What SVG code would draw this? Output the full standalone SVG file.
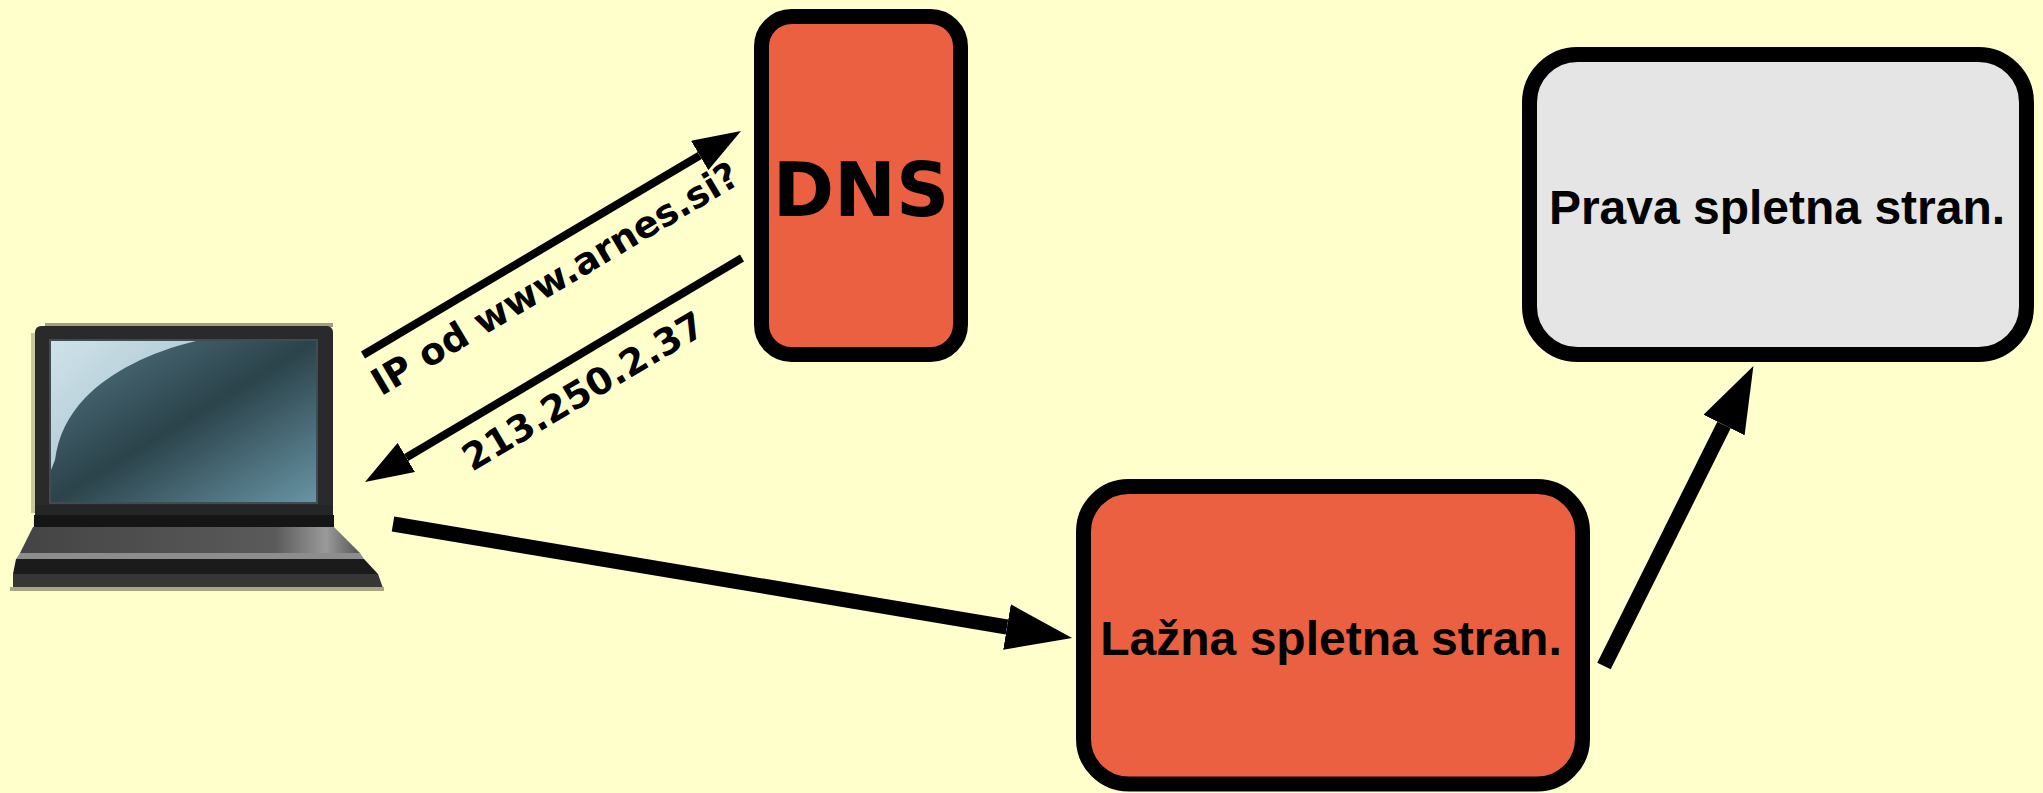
<svg xmlns="http://www.w3.org/2000/svg" width="2043" height="793" viewBox="0 0 2043 793">
  <defs>
    <style>
      .box { stroke: #000; stroke-width: 15; }
      .fake { fill: #ea6040; }
      .real { fill: #e5e5e5; }
      .boxlabel { font-family: "Liberation Sans", Arial, sans-serif; font-weight: bold; font-size: 48px; fill: #000; text-anchor: middle; }
      .dnslabel { font-family: "DejaVu Sans", Verdana, sans-serif; font-weight: bold; font-size: 74px; fill: #000; text-anchor: middle; }
      .edgelabel { font-family: "DejaVu Sans", Verdana, sans-serif; font-weight: bold; font-size: 37px; fill: #000; text-anchor: middle; }
      .thin { stroke: #000; stroke-width: 8; fill: none; marker-end: url(#head-s); }
      .thick { stroke: #000; stroke-width: 15; fill: none; marker-end: url(#head-l); }
    </style>
    <marker id="head-s" markerUnits="userSpaceOnUse" viewBox="0 -17 48 34" markerWidth="48" markerHeight="34" refX="0" refY="0" orient="auto">
      <path d="M0,-17 L48,0 L0,17 Z" fill="#000"/>
    </marker>
    <marker id="head-l" markerUnits="userSpaceOnUse" viewBox="0 -23 66 46" markerWidth="66" markerHeight="46" refX="0" refY="0" orient="auto">
      <path d="M0,-23 L66,0 L0,23 Z" fill="#000"/>
    </marker>
    <linearGradient id="screen" x1="0" y1="0" x2="1" y2="1">
      <stop offset="0" stop-color="#557885"/>
      <stop offset="0.5" stop-color="#2b434b"/>
      <stop offset="1" stop-color="#6894a4"/>
    </linearGradient>
    <linearGradient id="glare" x1="0" y1="0" x2="1" y2="1">
      <stop offset="0" stop-color="#cfe2ea"/>
      <stop offset="1" stop-color="#9dbbc7"/>
    </linearGradient>
    <linearGradient id="deck" x1="0" y1="0" x2="1" y2="0">
      <stop offset="0" stop-color="#444"/>
      <stop offset="0.75" stop-color="#5a5a5a"/>
      <stop offset="0.9" stop-color="#9a9a9a"/>
      <stop offset="1" stop-color="#555"/>
    </linearGradient>
  </defs>

  <rect width="2043" height="793" fill="#ffffcc"/>

  <!-- laptop (client) -->
  <g id="laptop">
    <rect x="45" y="323" width="288" height="4" fill="#a39f7e"/>
    <rect x="31" y="333" width="4" height="180" fill="#c9c7a2"/>
    <rect x="35" y="326" width="298" height="190" rx="6" fill="#2a2a2c"/>
    <rect x="49" y="339" width="269" height="165" fill="#3d4d53"/>
    <rect x="51" y="341" width="265" height="161" fill="url(#screen)"/>
    <path d="M51,341 L196,341 C150,352 110,372 85,398 C68,416 58,436 55,460 L51,470 Z" fill="url(#glare)"/>
    <rect x="35" y="505" width="298" height="11" fill="#232527"/>
    <rect x="34" y="515" width="300" height="12" fill="#151515"/>
    <polygon points="33,527 334,527 360,553 20,553" fill="url(#deck)"/>
    <polygon points="20,553 360,553 364,559 16,559" fill="#8d8d8d"/>
    <polygon points="16,559 364,559 378,574 13,574" fill="#1b1b1b"/>
    <polygon points="13,574 378,574 383,588 13,588" fill="#363636"/>
    <rect x="10" y="587" width="374" height="4" fill="#a8a682"/>
  </g>

  <!-- DNS server -->
  <g id="dns">
    <rect class="box fake" x="761.5" y="16.5" width="199" height="338" rx="30"/>
    <text class="dnslabel" x="861" y="216">DNS</text>
  </g>

  <!-- fake web site -->
  <g id="fake-site">
    <rect class="box fake" x="1083.5" y="486.5" width="499" height="297.5" rx="45"/>
    <text class="boxlabel" x="1331" y="655">Lažna spletna stran.</text>
  </g>

  <!-- real web site -->
  <g id="real-site">
    <rect class="box real" x="1529.5" y="54.5" width="497" height="300" rx="48"/>
    <text class="boxlabel" x="1777" y="224">Prava spletna stran.</text>
  </g>

  <!-- connectors -->
  <g id="connectors">
    <path class="thin" d="M363,355 L699.7,155.5"/>
    <path class="thin" d="M742,258 L406.3,457.5"/>
    <path class="thick" d="M393,524 L1007,627"/>
    <path class="thick" d="M1604,666 L1724,425"/>
    <text class="edgelabel" transform="translate(561.5,289.5) rotate(-30.65)">IP od www.arnes.si?</text>
    <text class="edgelabel" transform="translate(589.8,402.1) rotate(-30.65)">213.250.2.37</text>
  </g>
</svg>
